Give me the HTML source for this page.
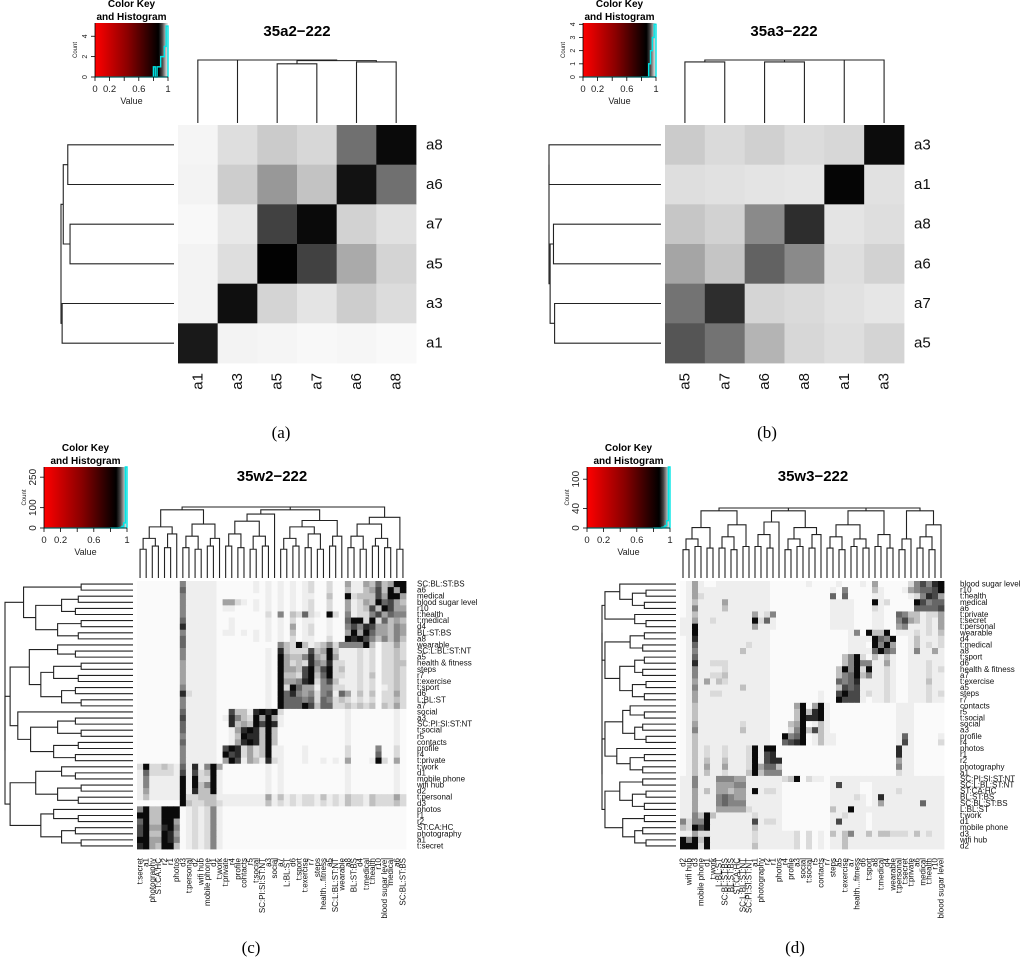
<!DOCTYPE html>
<html><head><meta charset="utf-8"><style>
html,body{margin:0;padding:0;background:#fff;}
svg{display:block;font-family:"Liberation Sans",sans-serif;}
</style></head><body>
<svg id="svg" width="1024" height="963" viewBox="0 0 1024 963" xmlns="http://www.w3.org/2000/svg"></svg>
<script>
// ---------- DATA ----------
const aLabelsRows = ["a8","a6","a7","a5","a3","a1"];
const aLabelsCols = ["a1","a3","a5","a7","a6","a8"];
const aValues = [
 [245,222,203,215,112,10],
 [243,205,152,195,18,112],
 [248,232,65,10,210,225],
 [243,222,2,65,170,212],
 [243,15,212,228,205,220],
 [25,243,245,248,246,249]];
const bLabelsRows = ["a3","a1","a8","a6","a7","a5"];
const bLabelsCols = ["a5","a7","a6","a8","a1","a3"];
const bValues = [
 [203,218,208,220,215,12],
 [222,225,228,230,5,225],
 [198,210,138,45,228,222],
 [165,197,98,138,222,210],
 [115,45,213,218,225,230],
 [85,115,180,215,222,212]];
const cLabelsRows = ["SC:BL:ST:BS","a6","medical","blood sugar level","r10","t:health","t:medical","d4","BL:ST:BS","a8","wearable","SC:L:BL:ST:NT","a5","health & fitness","steps","r7","t:exercise","t:sport","d6","L:BL:ST","a7","social","a3","SC:PI:SI:ST:NT","t:social","r5","contacts","profile","r4","t:private","t:work","d1","mobile phone","wifi hub","d2","t:personal","d3","photos","r1","r2","ST:CA:HC","photography","a1","t:secret"];
const cLabelsCols = ["t:secret","a1","photography","ST:CA:HC","r2","r1","photos","d3","t:personal","d2","wifi hub","mobile phone","d1","t:work","t:private","r4","profile","contacts","r5","t:social","SC:PI:SI:ST:NT","a3","social","a7","L:BL:ST","d6","t:sport","t:exercise","r7","steps","health...fitness","a5","SC:L:BL:ST:NT","wearable","a8","BL:ST:BS","d4","t:medical","t:health","r10","blood sugar level","medical","a6","SC:BL:ST:BS"];
const cValues = [
"0000000"+"5111110"+"000001010"+"10101200200"+"4114363499",
"0000000"+"6111110"+"000001010"+"10101200200"+"3113473949",
"0000000"+"5111110"+"000000010"+"10101100300"+"9233374994",
"0000000"+"5111110"+"442101010"+"10101200200"+"4124396743",
"0000000"+"5111110"+"110001010"+"10101200200"+"4123739744",
"0000000"+"5111110"+"000000020"+"50326210920"+"5122574655",
"0000000"+"6111110"+"010000010"+"10201100100"+"6992926343",
"0000000"+"8111110"+"010000010"+"10401200100"+"5758744354",
"0000000"+"5111110"+"110101010"+"10301200100"+"4949644354",
"0000000"+"6111110"+"000001010"+"10201100200"+"9897535353",
"0000000"+"6111110"+"000000000"+"53293123525"+"5559302242",
"0000000"+"5111110"+"000000010"+"83222734931"+"1121202232",
"0000000"+"5111110"+"000000010"+"94335843941"+"1121202232",
"0000000"+"4111110"+"000000010"+"94232854822"+"1121202233",
"0000000"+"4111110"+"000000010"+"94437947923"+"1121202232",
"0000000"+"4111110"+"000000010"+"93327936922"+"1121302232",
"0000000"+"4111110"+"000000010"+"94458925731"+"1121202232",
"0000000"+"5111110"+"000000010"+"92964415522"+"1121201232",
"0000000"+"8211110"+"000000010"+"96854525616"+"4131302242",
"0000000"+"5111110"+"000000010"+"96665626523"+"2121202232",
"0000000"+"5111110"+"000000010"+"96669736622"+"3232303242",
"0000000"+"6111110"+"073318989"+"20000000000"+"1000000010",
"0000000"+"7111110"+"185329494"+"10000000000"+"1000000010",
"0000000"+"6111110"+"083439798"+"10000000000"+"1000000010",
"0000000"+"6111110"+"014898393"+"00000000000"+"1000000010",
"0000000"+"5111110"+"013988393"+"00000000000"+"1000000010",
"0000000"+"6111110"+"014898393"+"00000000000"+"1000000010",
"0000000"+"5111110"+"798242391"+"10001000000"+"2000050020",
"0000000"+"5111110"+"978242391"+"10001000000"+"2000060020",
"0000000"+"5111110"+"497143182"+"10001001010"+"4000192040",
"2922321"+"6181594"+"000000010"+"10000000000"+"1000000010",
"1622221"+"7172391"+"000000010"+"10000000000"+"1000000010",
"1511111"+"9192291"+"000000010"+"10000000000"+"1000000010",
"1511111"+"9193591"+"000000010"+"10000000000"+"1000000010",
"1411111"+"9183391"+"000000010"+"10000000000"+"1000000010",
"1311111"+"9223331"+"111111141"+"31212213121"+"3221322242",
"0000000"+"9322332"+"111111131"+"21212212121"+"3221322232",
"5933999"+"0121251"+"000000000"+"00000000000"+"0000000000",
"9933999"+"0121251"+"000000000"+"00000000000"+"0000000000",
"6933994"+"0121251"+"000000000"+"00000000000"+"0000000000",
"7944895"+"0121251"+"000000000"+"00000000000"+"0000000000",
"7933984"+"0121251"+"000000000"+"00000000000"+"0000000000",
"9944985"+"0121251"+"000000000"+"00000000000"+"0000000000",
"8943993"+"0121251"+"000000000"+"00000000000"+"0000000000"];
const dLabelsRows = ["blood sugar level","r10","t:health","medical","a6","t:private","t:secret","t:personal","wearable","d4","t:medical","a8","t:sport","d6","health & fitness","a7","t:exercise","a5","steps","r7","contacts","r5","t:social","social","a3","profile","r4","photos","r1","r2","photography","a1","SC:PI:SI:ST:NT","SC:L:BL:ST:NT","ST:CA:HC","BL:ST:BS","SC:BL:ST:BS","L:BL:ST","t:work","d1","mobile phone","d3","wifi hub","d2"];
const dLabelsCols = ["d2","wifi hub","d3","mobile phone","d1","t:work","L:BL:ST","SC:BL:ST:BS","BL:ST:BS","ST:CA:HC","SC:L:BL:ST:NT","SC:PI:SI:ST:NT","a1","photography","r2","r1","photos","r4","profile","a3","social","t:social","r5","contacts","r7","steps","a5","t:exercise","a7","health...fitness","d6","t:sport","a8","t:medical","d4","wearable","t:personal","t:secret","t:private","a6","medical","t:health","r10","blood sugar level"];
const dValues = [
"014100"+"111111"+"11100"+"0000100"+"00100010"+"4000"+"002"+"57589",
"014111"+"111111"+"11100"+"0000000"+"01050000"+"3100"+"014"+"56679",
"014211"+"111111"+"11100"+"0000000"+"06060000"+"1100"+"001"+"25874",
"013111"+"141111"+"11100"+"0000000"+"01111000"+"9120"+"000"+"97566",
"015111"+"131111"+"11100"+"0000000"+"01111000"+"2100"+"000"+"66667",
"013111"+"111111"+"41250"+"0000000"+"01111000"+"1100"+"653"+"31224",
"114112"+"111111"+"92610"+"0000000"+"01111000"+"1100"+"574"+"31214",
"119111"+"111111"+"41110"+"0000000"+"01111000"+"1100"+"451"+"11214",
"119111"+"111111"+"11100"+"0000000"+"00001509"+"3390"+"111"+"21213",
"018111"+"111111"+"11100"+"0000000"+"00001111"+"9659"+"001"+"31112",
"016111"+"111112"+"11100"+"0000000"+"00001110"+"9594"+"001"+"31212",
"015111"+"111131"+"11100"+"0000000"+"00001111"+"6965"+"001"+"51141",
"016111"+"111111"+"11100"+"0000000"+"00035920"+"3131"+"001"+"11111",
"018112"+"221111"+"11100"+"0000000"+"00035955"+"1141"+"001"+"11211",
"015111"+"121111"+"11100"+"0000000"+"00395929"+"1121"+"001"+"11212",
"015112"+"231111"+"11100"+"0000000"+"00356935"+"1121"+"001"+"11211",
"014141"+"321111"+"11100"+"0000000"+"00656811"+"1121"+"001"+"11311",
"015111"+"111131"+"11100"+"0000000"+"00376711"+"1121"+"001"+"11211",
"014112"+"211111"+"11100"+"0000001"+"00797712"+"1121"+"001"+"11212",
"014111"+"111111"+"11100"+"0000001"+"00977710"+"1121"+"001"+"11211",
"013111"+"111111"+"11100"+"0049049"+"10000000"+"0000"+"111"+"00000",
"013111"+"111111"+"11100"+"0039389"+"10000000"+"0000"+"111"+"00000",
"013111"+"111111"+"11100"+"0039889"+"10000000"+"0000"+"111"+"00000",
"014111"+"111121"+"11100"+"0349013"+"10000000"+"0000"+"111"+"00000",
"015111"+"111131"+"11100"+"0259373"+"10000000"+"0000"+"111"+"00000",
"013111"+"111111"+"11100"+"9569013"+"11000000"+"0000"+"161"+"00001",
"013111"+"111111"+"11100"+"6789013"+"11000000"+"0000"+"171"+"00002",
"013121"+"121112"+"91990"+"0000000"+"00000000"+"0000"+"811"+"00000",
"013121"+"121112"+"91780"+"0000000"+"00000000"+"0000"+"811"+"00000",
"013131"+"131112"+"91788"+"0000000"+"00000000"+"0000"+"411"+"00000",
"013141"+"141112"+"94663"+"0000000"+"00000000"+"0000"+"511"+"00000",
"013131"+"121113"+"93555"+"0000000"+"00000000"+"0000"+"211"+"00000",
"115111"+"555441"+"11111"+"2390211"+"01111111"+"1111"+"111"+"11111",
"115111"+"444551"+"11111"+"0000000"+"01711100"+"1111"+"111"+"11111",
"114131"+"443441"+"91221"+"0000000"+"01111100"+"1111"+"211"+"11111",
"114111"+"565441"+"11111"+"0000000"+"01111210"+"1811"+"111"+"11111",
"114111"+"565551"+"11111"+"0000000"+"01111110"+"1411"+"111"+"16111",
"114111"+"444442"+"11111"+"0000000"+"03119111"+"1111"+"111"+"11111",
"115393"+"111111"+"21111"+"0000000"+"01121110"+"1111"+"111"+"11111",
"525591"+"111111"+"71221"+"0000000"+"01711110"+"1111"+"111"+"11111",
"329791"+"111111"+"31111"+"0000000"+"01111110"+"1111"+"111"+"11111",
"114221"+"111111"+"21111"+"1120201"+"03135113"+"1332"+"221"+"31211",
"959391"+"111111"+"21111"+"1120201"+"01131111"+"1111"+"111"+"11111",
"999291"+"111111"+"31111"+"1120201"+"01131111"+"1111"+"111"+"11111"];
const cGroups = [7,7,9,11,10];
const dGroups = [6,6,5,7,8,4,3,5];
const aTopTree = [0,[1,[[2,3,0.94],[4,5,0.97],0.99],1],1];
const aLeftTree = [[[0,1,0.94],[2,3,0.92],0.98],[4,5,0.99],1];
const bTopTree = [[[0,1,0.97],[2,3,0.97],1],[4,5,1],1];
const bLeftTree = [[0,1,1],[[2,3,0.96],[4,5,0.95],0.99],1];
const levelHeights = [0.45,0.62,0.8,0.9,0.96,1];
const levelGrays = [250,238,218,192,162,132,102,72,42,10];

// ---------- HELPERS ----------
const NS="http://www.w3.org/2000/svg";
const svg=document.getElementById('svg');
function mk(tag,attrs,parent){const e=document.createElementNS(NS,tag);for(const k in attrs)e.setAttribute(k,attrs[k]);(parent||svg).appendChild(e);return e;}
function grp(name){const g=mk('g',{});


return g;}
function txt(parent,x,y,s,size,extra){const t=mk('text',Object.assign({x:x,y:y,'font-size':size,fill:'#000'},extra||{}),parent);t.textContent=s;return t;}
function grayOf(v){v=Math.max(0,Math.min(255,Math.round(v)));return 'rgb('+v+','+v+','+v+')';}
function levelGray(ch){const d=parseInt(ch,10)||0;return grayOf(levelGrays[d]);}

function heat(name,x0,y0,w,h,rows,vals,colorFn){
  const g=grp(name);
  const nr=rows.length, nc=vals[0].length;
  const cw=w/nc, ch=h/nr;
  for(let i=0;i<nr;i++)for(let j=0;j<nc;j++){
    const v=vals[i][j];
    const r=mk('rect',{x:(x0+j*cw).toFixed(2),y:(y0+i*ch).toFixed(2),width:(cw+0.4).toFixed(2),height:(ch+0.4).toFixed(2),fill:colorFn(v)},g);
    
    
  }
  return {cw,ch};
}
function rowLabels(name,x,y0,ch,labels,size){
  const g=grp(name);
  labels.forEach((s,i)=>{const t=txt(g,x,y0+ch*(i+0.5),s,size,{'dominant-baseline':'central',fill:'#111'});
    
    });
}
function colLabels(name,x0,cw,ytop,labels,size){
  const g=grp(name);
  labels.forEach((s,j)=>{const cx=x0+cw*(j+0.5);
    const t=txt(g,cx,ytop,s,size,{'text-anchor':'end','dominant-baseline':'central',fill:'#111',transform:'rotate(-90 '+cx+' '+ytop+')'});
    
    });
}
function dendro(name,tree,orient,pos0,step,base,span,flip){
  const g=grp(name);
  function draw(node){
    if(typeof node==='number'){const n=flip?(flip-1-node):node;return {p:pos0+step*(n+0.5),h:0};}
    const a=draw(node[0]), b=draw(node[1]), H=node[2];
    const hv=v=>base-v*span;
    let d;
    if(orient==='top') d='M'+a.p+','+hv(a.h)+'V'+hv(H)+'H'+b.p+'V'+hv(b.h);
    else d='M'+hv(a.h)+','+a.p+'H'+hv(H)+'V'+b.p+'H'+hv(b.h);
    mk('path',{d:d,fill:'none',stroke:'#222','stroke-width':1.1},g);
    return {p:(a.p+b.p)/2,h:H};
  }
  draw(tree);
}
function groupTree(groups){
  let idx=0; const subs=[];
  groups.forEach((n,gi)=>{
    let nodes=[]; for(let k=0;k<n;k++) nodes.push(idx++);
    let lvl=0;
    while(nodes.length>1){const nx=[];
      for(let k=0;k<nodes.length;k+=2){
        if(k+1<nodes.length) nx.push([nodes[k],nodes[k+1],levelHeights[Math.min(lvl,3)]*(0.9+0.1*((k+gi)%3)/2)]);
        else nx.push(nodes[k]);}
      nodes=nx; lvl++;}
    subs.push(nodes[0]);
  });
  let nodes=subs, lv=4;
  while(nodes.length>1){const nx=[];
    for(let k=0;k<nodes.length;k+=2){ if(k+1<nodes.length) nx.push([nodes[k],nodes[k+1],levelHeights[Math.min(lv,5)]]); else nx.push(nodes[k]);}
    nodes=nx; lv++;}
  return nodes[0];
}
function colorKey(name,x,y,w,h,counts,countMax){
  const g=grp(name);
  const id='grad'+name;
  const defs=mk('defs',{},g);
  const lg=mk('linearGradient',{id:id,x1:0,x2:1,y1:0,y2:0},defs);
  [[0,'#ff0000'],[0.45,'#8a0000'],[0.87,'#000000'],[0.92,'#444'],[0.97,'#bbb'],[1,'#f0f0f0']].forEach(s=>mk('stop',{offset:s[0],'stop-color':s[1]},lg));
  mk('rect',{x:x,y:y,width:w,height:h,fill:'url(#'+id+')'},g);
  let d='M'+(x+w*0.8)+','+(y+h);
  counts.forEach((c,i)=>{const xx=x+w*(0.8+i*0.2/counts.length);d+='L'+xx+','+(y+h-h*c/countMax)+'H'+(x+w*(0.8+(i+1)*0.2/counts.length));});
  d+='V'+(y+h);
  mk('path',{d:d,fill:'none',stroke:'#00e5e5','stroke-width':1.4},g);
  mk('line',{x1:x,y1:y+h,x2:x+w,y2:y+h,stroke:'#00e5e5','stroke-width':1.2},g);
  mk('line',{x1:x,y1:y+h,x2:x+w,y2:y+h,stroke:'#000','stroke-width':0.8},g);
  [0,0.2,0.4,0.6,0.8,1].forEach(v=>mk('line',{x1:x+v*w,y1:y+h,x2:x+v*w,y2:y+h+4,stroke:'#000','stroke-width':0.8},g));
  [['0',0],['0.2',0.2],['0.6',0.6],['1',1]].forEach(p=>txt(g,x+p[1]*w,y+h+15,p[0],9.5,{'text-anchor':'middle',fill:'#222'}));
  txt(g,x+w/2,y+h+27,'Value',9,{'text-anchor':'middle',fill:'#222'});
  txt(g,x+w/2,y-16,'Color Key',10,{'text-anchor':'middle','font-weight':'bold'});
  txt(g,x+w/2,y-3,'and Histogram',10,{'text-anchor':'middle','font-weight':'bold'});
  mk('line',{x1:x,y1:y,x2:x,y2:y+h,stroke:'#000','stroke-width':0.8},g);
  return g;
}
function countAxis(g,x,y,h,ticks,max,size){
  ticks.forEach(t=>{const yy=y+h-h*t/max;mk('line',{x1:x-4,y1:yy,x2:x,y2:yy,stroke:'#000','stroke-width':0.8},g);
    txt(g,x-8,yy,String(t),size,{'text-anchor':'middle',fill:'#222',transform:'rotate(-90 '+(x-8)+' '+yy+')'});});
  txt(g,x-18,y+h/2,'Count',6,{'text-anchor':'middle',fill:'#222',transform:'rotate(-90 '+(x-18)+' '+(y+h/2)+')'});
}
function caption(s,x,y){const t=txt(svg,x,y,s,17,{'text-anchor':'middle','font-family':'Liberation Serif, serif'});
  
  }
function title(s,x,y){const t=txt(svg,x,y,s,15,{'text-anchor':'middle','font-weight':'bold'});
  
  }

// ---------- PANEL A ----------
let k=colorKey('color-key-a',95,23,73,54,[1,0,1,1,2,2,3,5],5.3);
countAxis(k,95,23,54,[0,2,4],5.3,7);
title('35a2\u2212222',297,36);
let m=heat('heatmap-a',178,125,238,238,aLabelsRows,aValues,grayOf);
rowLabels('row-labels-a',426,125,m.ch,aLabelsRows,15);
colLabels('col-labels-a',178,m.cw,373,aLabelsCols,15);
dendro('top-dendrogram-a',aTopTree,'top',178,m.cw,123,63);
dendro('left-dendrogram-a',aLeftTree,'left',125,m.ch,174,113);
caption('(a)',281,438);

// ---------- PANEL B ----------
k=colorKey('color-key-b',583,23,73,54,[0,0,0,0,1,2,3,4],4.1);
countAxis(k,583,23,54,[0,1,2,3,4],4.1,7);
title('35a3\u2212222',784,36);
m=heat('heatmap-b',665,125,239,238,bLabelsRows,bValues,grayOf);
rowLabels('row-labels-b',914,125,m.ch,bLabelsRows,15);
colLabels('col-labels-b',665,m.cw,373,bLabelsCols,15);
dendro('top-dendrogram-b',bTopTree,'top',665,m.cw,123,63);
dendro('left-dendrogram-b',bLeftTree,'left',125,m.ch,661,112);
caption('(b)',767,438);

// ---------- PANEL C ----------
k=colorKey('color-key-c',44,467,83,61,[0,0,0,0,0,1,3,8,25,300],300);
countAxis(k,44,467,61,[0,100,250],300,10);
title('35w2\u2212222',272,481);
m=heat('heatmap-c',137,581,269,268,cLabelsRows,cValues,levelGray);
rowLabels('row-labels-c',417,581,m.ch,cLabelsRows,8);
colLabels('col-labels-c',137,m.cw,858,cLabelsCols,8);
const cTree=groupTree(cGroups);
dendro('top-dendrogram-c',cTree,'top',137,m.cw,578,71);
dendro('left-dendrogram-c',cTree,'left',581,m.ch,133,128,44);
caption('(c)',251,953);

// ---------- PANEL D ----------
k=colorKey('color-key-d',587,467,83,61,[0,0,0,0,0,1,2,5,15,125],125);
countAxis(k,587,467,61,[0,40,100],125,10);
title('35w3\u2212222',813,481);
m=heat('heatmap-d',680,581,264,268,dLabelsRows,dValues,levelGray);
rowLabels('row-labels-d',960,581,m.ch,dLabelsRows,8);
colLabels('col-labels-d',680,m.cw,858,dLabelsCols,8);
const dTree=groupTree(dGroups);
dendro('top-dendrogram-d',dTree,'top',680,m.cw,578,70);
dendro('left-dendrogram-d',dTree,'left',581,m.ch,676,74,44);
caption('(d)',795,953);
</script>
</body></html>
